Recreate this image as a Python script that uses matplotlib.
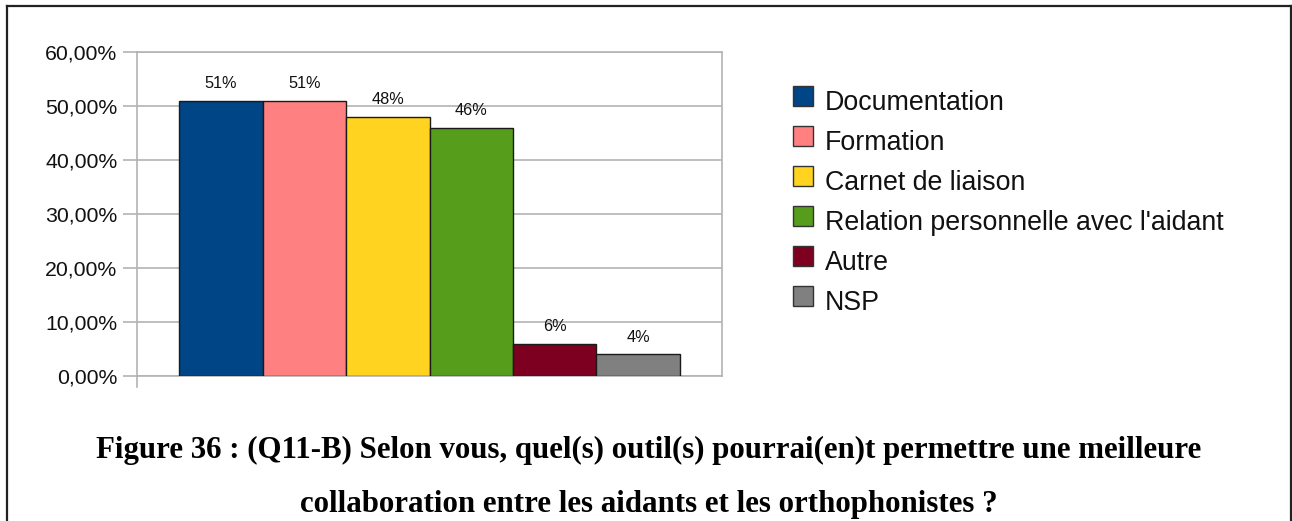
import matplotlib
matplotlib.use("Agg")
import matplotlib.pyplot as plt
from matplotlib.lines import Line2D
from matplotlib.patches import Rectangle
from matplotlib.ticker import FuncFormatter

# survey answers (share of respondents, %)
series = ["Documentation", "Formation", "Carnet de liaison",
          "Relation personnelle avec l'aidant", "Autre", "NSP"]
values = [51, 51, 48, 46, 6, 4]
colors = ["#004586", "#ff8080", "#ffd320", "#579d1c", "#7e0021", "#808080"]
yticks = [0, 10, 20, 30, 40, 50, 60]
caption = ["Figure 36 : (Q11-B) Selon vous, quel(s) outil(s) pourrai(en)t permettre une meilleure",
           "collaboration entre les aidants et les orthophonistes ?"]

W, H = 1292, 521
fig = plt.figure(figsize=(W / 100, H / 100), dpi=100)
fig.patch.set_facecolor("white")

def fx(px):
    return px / W

def fy(py):
    return 1 - py / H

ax = fig.add_axes([fx(137), fy(376), fx(722) - fx(137), fy(52) - fy(376)])
grid_c = "#b3b3b3"

x = list(range(len(values)))
ax.bar(x, values, width=1.0, color=colors, edgecolor="#1a1a1a", linewidth=1.0, zorder=3)
for xi, v in zip(x, values):
    ax.annotate(f"{v}%", (xi, v), xytext=(0, 7), textcoords="offset points",
                ha="center", va="bottom", fontsize=11.7, family="Liberation Sans",
                color="#111111")

ax.set_xlim(-1.003, 6.003)
ax.set_ylim(0, 60)
ax.set_yticks(yticks)
ax.yaxis.set_major_formatter(FuncFormatter(lambda v, p: f"{v:.2f}".replace(".", ",") + "%"))
ax.set_xticks([])
ax.yaxis.grid(True, color=grid_c, linewidth=1.2, zorder=0)
for s in ax.spines.values():
    s.set_color(grid_c)
    s.set_linewidth(1.2)
ax.tick_params(axis="y", length=10, width=1.2, color=grid_c, pad=4,
               labelsize=15.3, labelcolor="#111111")
for lab in ax.get_yticklabels():
    lab.set_family("Liberation Sans")

# y-axis line runs a little below zero
fig.add_artist(Line2D([fx(137), fx(137)], [fy(376), fy(387)], color=grid_c, lw=1.2))

# legend drawn as swatches + labels
for i, (name, c) in enumerate(zip(series, colors)):
    top = 86 + 40 * i
    fig.add_artist(Rectangle((fx(793), fy(top + 20)), fx(20), 20 / H,
                             facecolor=c, edgecolor="#333333", lw=1.0))
    fig.text(fx(825), fy(top + 24), name, ha="left", va="baseline", fontsize=19.3,
             family="Liberation Sans", color="#111111")

# caption
fig.text(fx(649), fy(458), caption[0], ha="center", va="baseline", fontsize=22.2,
         family="Liberation Serif", weight="bold")
fig.text(fx(649), fy(512), caption[1], ha="center", va="baseline", fontsize=22.2,
         family="Liberation Serif", weight="bold")

# frame around the figure (open at the bottom)
frame = dict(color="#222222", lw=1.6)
fig.add_artist(Line2D([fx(7), fx(1291)], [fy(6), fy(6)], **frame))
fig.add_artist(Line2D([fx(7), fx(7)], [fy(6), 0], **frame))
fig.add_artist(Line2D([fx(1291), fx(1291)], [fy(6), 0], **frame))

fig.savefig("out.png", dpi=100)
